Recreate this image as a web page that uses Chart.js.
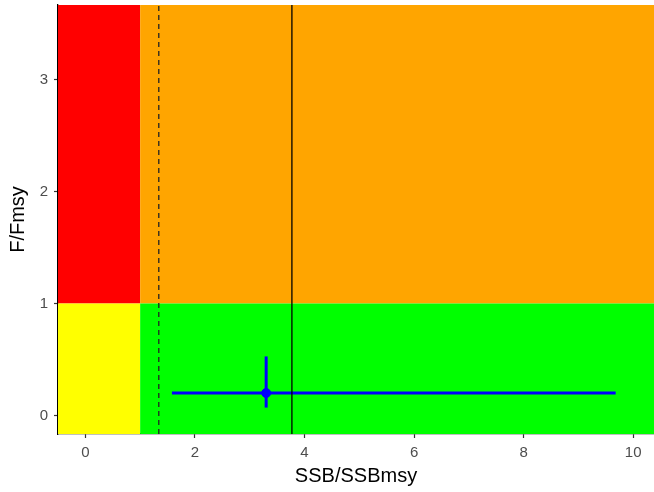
<!DOCTYPE html>
<html>
<head>
<meta charset="utf-8">
<script src="https://cdn.jsdelivr.net/npm/chart.js@4"></script>
<style>
  body { margin: 0; background: #fff; }
  #wrap { width: 654px; height: 492px; }
</style>
</head>
<body>
<div id="wrap"><canvas id="kobe" width="654" height="492"></canvas></div>
<script>
  // axis ranges and ticks
  const xRange = [-0.5, 10.38];
  const yRange = [-0.166, 3.667];
  const xTicks = [0, 2, 4, 6, 8, 10];
  const yTicks = [0, 1, 2, 3];

  // reference points (SSB/SSBmsy = 1, F/Fmsy = 1)
  const bRef = 1;
  const fRef = 1;

  // vertical reference lines
  const dashedLineX = 1.34;
  const solidLineX = 3.77;

  // estimate with intervals
  const ssb = 3.30;
  const ssbLow = 1.58;
  const ssbHigh = 9.68;
  const fval = 0.20;
  const fLow = 0.07;
  const fHigh = 0.527;

  // zones: [x0, x1, y0, y1, colour]
  const zones = [
    [-Infinity, bRef, fRef, Infinity, '#FF0000'],
    [bRef, Infinity, fRef, Infinity, '#FFA500'],
    [-Infinity, bRef, -Infinity, fRef, '#FFFF00'],
    [bRef, Infinity, -Infinity, fRef, '#00FF00']
  ];

  const zonePlugin = {
    id: 'zones',
    beforeDatasetsDraw(chart) {
      const {ctx, scales} = chart;
      const clampX = v => Math.min(Math.max(v, xRange[0]), xRange[1]);
      const clampY = v => Math.min(Math.max(v, yRange[0]), yRange[1]);
      ctx.save();
      zones.forEach(z => {
        const x0 = scales.x.getPixelForValue(clampX(z[0]));
        const x1 = scales.x.getPixelForValue(clampX(z[1]));
        const y0 = scales.y.getPixelForValue(clampY(z[2]));
        const y1 = scales.y.getPixelForValue(clampY(z[3]));
        ctx.fillStyle = z[4];
        ctx.fillRect(x0, y1, x1 - x0, y0 - y1);
      });
      ctx.restore();
    }
  };

  const data = {
    datasets: [{
      type: 'line',
      data: [{x: dashedLineX, y: yRange[0]}, {x: dashedLineX, y: yRange[1]}],
      borderColor: '#222',
      borderWidth: 1.3,
      borderDash: [5, 4],
      pointRadius: 0
    }, {
      type: 'line',
      data: [{x: solidLineX, y: yRange[0]}, {x: solidLineX, y: yRange[1]}],
      borderColor: '#000',
      borderWidth: 1.3,
      pointRadius: 0
    }, {
      type: 'line',
      data: [{x: ssbLow, y: fval}, {x: ssbHigh, y: fval}],
      borderColor: '#0000FF',
      borderWidth: 3,
      pointRadius: 0
    }, {
      type: 'line',
      data: [{x: ssb, y: fLow}, {x: ssb, y: fHigh}],
      borderColor: '#0000FF',
      borderWidth: 3,
      pointRadius: 0
    }, {
      type: 'scatter',
      data: [{x: ssb, y: fval}],
      backgroundColor: '#0000FF',
      borderColor: '#0000FF',
      pointRadius: 4.5
    }]
  };

  const config = {
    type: 'scatter',
    data: data,
    plugins: [zonePlugin],
    options: {
      responsive: false,
      animation: false,
      devicePixelRatio: 1,
      layout: { autoPadding: false, padding: { top: 5, right: 0, left: 0, bottom: 0 } },
      plugins: { legend: { display: false }, tooltip: { enabled: false } },
      scales: {
        x: {
          type: 'linear',
          min: xRange[0],
          max: xRange[1],
          afterBuildTicks: s => { s.ticks = xTicks.map(v => ({value: v})); },
          afterFit: s => { s.height = 58; s.paddingLeft = 0; s.paddingRight = 0; },
          grid: { drawOnChartArea: false, tickLength: 4, color: '#333', tickWidth: 1.2 },
          border: { color: '#000', width: 1.3 },
          ticks: { color: '#4d4d4d', font: { family: 'Liberation Sans', size: 15 }, padding: 6, maxRotation: 0 },
          title: { display: true, text: 'SSB/SSBmsy', color: '#000', font: { family: 'Liberation Sans', size: 20 }, padding: { top: 0, bottom: 4 } }
        },
        y: {
          type: 'linear',
          min: yRange[0],
          max: yRange[1],
          afterBuildTicks: s => { s.ticks = yTicks.map(v => ({value: v})); },
          afterFit: s => { s.width = 58; s.paddingTop = 0; s.paddingBottom = 0; },
          grid: { drawOnChartArea: false, tickLength: 4, color: '#333', tickWidth: 1.2 },
          border: { color: '#000', width: 1.3 },
          ticks: { color: '#4d4d4d', font: { family: 'Liberation Sans', size: 15 }, padding: 6 },
          title: { display: true, text: 'F/Fmsy', color: '#000', font: { family: 'Liberation Sans', size: 20 }, padding: { top: 6, bottom: 0 } }
        }
      }
    }
  };

  const kobeChart = new Chart(
    document.getElementById('kobe'),
    config
  );
</script>
</body>
</html>
